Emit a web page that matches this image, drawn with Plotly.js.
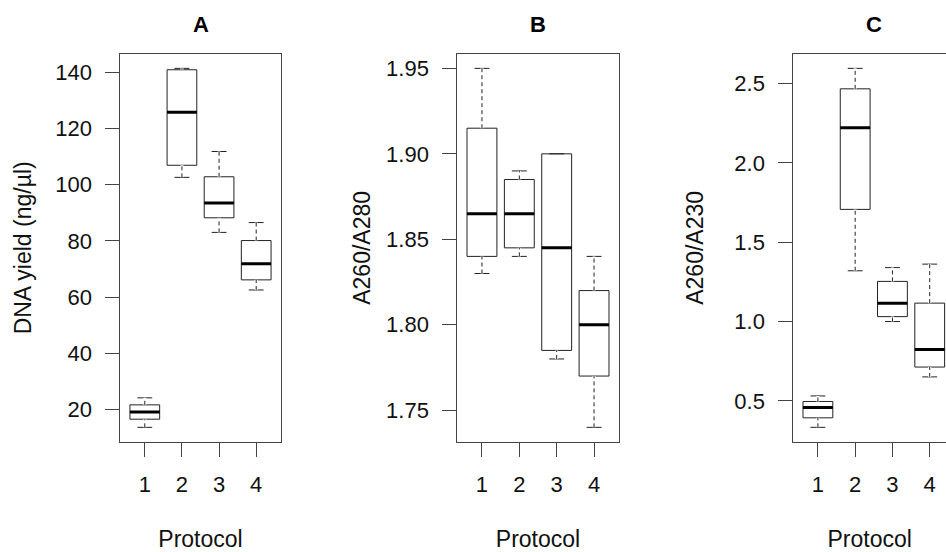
<!DOCTYPE html>
<html>
<head>
<meta charset="utf-8">
<script src="https://cdn.plot.ly/plotly-3.0.1.min.js"></script>
<style>
html,body{margin:0;padding:0;background:#fff;}
#chart{width:946px;height:552px;}
</style>
</head>
<body>
<div id="chart"></div>
<script>
// ---- Data ----
var protocols = [1, 2, 3, 4];
var protocolLabels = ['1', '2', '3', '4'];

// Panel A: DNA yield (ng/µl)
var yieldLower  = [13.6, 102.6, 83.0, 62.5];
var yieldQ1     = [16.5, 106.9, 88.2, 66.1];
var yieldMedian = [19.1, 125.8, 93.5, 71.8];
var yieldQ3     = [21.6, 140.9, 102.8, 80.1];
var yieldUpper  = [24.1, 141.4, 111.8, 86.5];

// Panel B: A260/A280
var r280Lower  = [1.830, 1.840, 1.780, 1.740];
var r280Q1     = [1.840, 1.845, 1.785, 1.770];
var r280Median = [1.865, 1.865, 1.845, 1.800];
var r280Q3     = [1.915, 1.885, 1.900, 1.820];
var r280Upper  = [1.950, 1.890, 1.900, 1.840];

// Panel C: A260/A230
var r230Lower  = [0.333, 1.320, 1.000, 0.651];
var r230Q1     = [0.393, 1.707, 1.031, 0.713];
var r230Median = [0.458, 2.222, 1.116, 0.824];
var r230Q3     = [0.496, 2.467, 1.253, 1.116];
var r230Upper  = [0.531, 2.596, 1.340, 1.362];

var panelTitles = ['A', 'B', 'C'];
var yTitles = ['DNA yield (ng/µl)', 'A260/A280', 'A260/A230'];
var xTitle = 'Protocol';

// ---- Build traces ----
var FONT = 'Liberation Sans, Arial, sans-serif';
var LINE = '#222';
var FRAME = '#444';
var BOXW = 0.8;

function rRange(lo, hi) {
  var mn = Math.min.apply(null, lo), mx = Math.max.apply(null, hi);
  var ext = 0.04 * (mx - mn);
  return [mn - ext, mx + ext];
}

function panelTraces(lower, q1, med, q3, upper, xa, ya) {
  var t = [];
  t.push({
    type: 'box', x: protocols, q1: q1, median: med, q3: q3,
    lowerfence: lower, upperfence: upper,
    width: BOXW, whiskerwidth: 0.5, boxpoints: false,
    fillcolor: 'white', line: {color: LINE, width: 1},
    xaxis: xa, yaxis: ya, hoverinfo: 'skip', showlegend: false
  });
  // whiskers redrawn dashed (R style)
  var wx = [], wy = [];
  for (var i = 0; i < protocols.length; i++) {
    wx.push(protocols[i], protocols[i], null, protocols[i], protocols[i], null);
    wy.push(q3[i], upper[i], null, lower[i], q1[i], null);
  }
  t.push({type: 'scatter', mode: 'lines', x: wx, y: wy, xaxis: xa, yaxis: ya,
    line: {color: 'white', width: 3}, hoverinfo: 'skip', showlegend: false});
  t.push({type: 'scatter', mode: 'lines', x: wx, y: wy, xaxis: xa, yaxis: ya,
    line: {color: LINE, width: 1, dash: '4px,3px'}, hoverinfo: 'skip', showlegend: false});
  // thick medians
  var mx = [], my = [];
  for (var j = 0; j < protocols.length; j++) {
    mx.push(protocols[j] - BOXW / 2, protocols[j] + BOXW / 2, null);
    my.push(med[j], med[j], null);
  }
  t.push({type: 'scatter', mode: 'lines', x: mx, y: my, xaxis: xa, yaxis: ya,
    line: {color: '#000', width: 3}, hoverinfo: 'skip', showlegend: false});
  return t;
}

var data = []
  .concat(panelTraces(yieldLower, yieldQ1, yieldMedian, yieldQ3, yieldUpper, 'x', 'y'))
  .concat(panelTraces(r280Lower, r280Q1, r280Median, r280Q3, r280Upper, 'x2', 'y2'))
  .concat(panelTraces(r230Lower, r230Q1, r230Median, r230Q3, r230Upper, 'x3', 'y3'));

// ---- Layout ----
var W = 946, H = 552;
var yDom = [1 - 441.7 / H, 1 - 54 / H];
var TICKFONT = {family: FONT, size: 22, color: '#111'};
var TITLEFONT = {family: FONT, size: 23, color: '#111'};

function xAxis(dom, range, mirror) {
  return {
    domain: dom, range: range,
    tickmode: 'array', tickvals: protocols, ticktext: protocolLabels,
    ticks: 'outside', ticklen: 14, tickwidth: 1, tickcolor: FRAME,
    ticklabelstandoff: 9,
    showline: true, linecolor: FRAME, linewidth: 1, mirror: mirror,
    showgrid: false, zeroline: false,
    tickfont: TICKFONT,
    title: {text: xTitle, font: TITLEFONT, standoff: 39},
    fixedrange: true
  };
}
function yAxis(range, dtick, fmt, mirror, standoff, title) {
  return {
    domain: yDom, range: range,
    tick0: 0, dtick: dtick, tickformat: fmt,
    ticks: 'outside', ticklen: 14, tickwidth: 1, tickcolor: FRAME,
    ticklabelstandoff: 9,
    showline: true, linecolor: FRAME, linewidth: 1, mirror: mirror,
    showgrid: false, zeroline: false,
    tickfont: TICKFONT,
    title: {text: title, font: TITLEFONT, standoff: standoff},
    fixedrange: true
  };
}

var xa = xAxis([120.3 / W, 280.7 / W], [0.34, 4.66], true); xa.anchor = 'y';
var xb = xAxis([457.3 / W, 618.7 / W], [0.34, 4.66], true); xb.anchor = 'y2';
var xc = xAxis([793.3 / W, 1.0], [0.34, 4.437], true); xc.anchor = 'y3';

var ya = yAxis(rRange(yieldLower, yieldUpper), 20, 'd', true, 17, yTitles[0]); ya.anchor = 'x';
var yb = yAxis(rRange(r280Lower, r280Upper), 0.05, '.2f', true, 9, yTitles[1]); yb.anchor = 'x2';
var yc = yAxis(rRange(r230Lower, r230Upper), 0.5, '.1f', false, 24, yTitles[2]); yc.anchor = 'x3';

var titleX = [(120.3 + 280.7) / 2 / W, (457.3 + 618.7) / 2 / W, (793.3 + 954.3) / 2 / W];
var annotations = panelTitles.map(function (t, i) {
  return {
    text: '<b>' + t + '</b>', xref: 'paper', yref: 'paper',
    x: titleX[i], y: 1 - 25 / H, xanchor: 'center', yanchor: 'middle',
    showarrow: false, font: {family: FONT, size: 22, color: '#000'}
  };
});

var layout = {
  width: W, height: H,
  margin: {l: 0, r: 0, t: 0, b: 0, pad: 0},
  paper_bgcolor: 'white', plot_bgcolor: 'white',
  showlegend: false, boxmode: 'overlay',
  xaxis: xa, yaxis: ya, xaxis2: xb, yaxis2: yb, xaxis3: xc, yaxis3: yc,
  annotations: annotations,
  font: {family: FONT, color: '#111'}
};

Plotly.newPlot('chart', data, layout, {displayModeBar: false, staticPlot: true});
</script>
</body>
</html>
